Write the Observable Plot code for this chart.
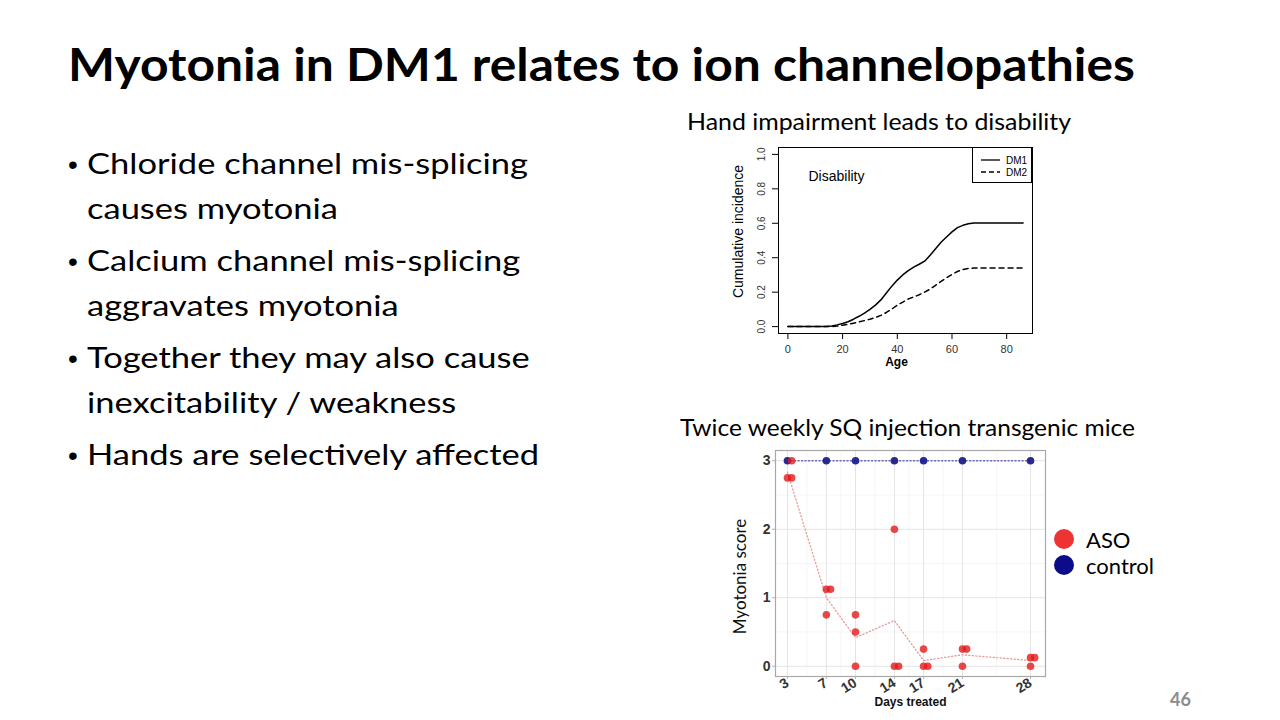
<!DOCTYPE html>
<html><head><meta charset="utf-8">
<script src="https://cdn.jsdelivr.net/npm/d3@7"></script>
<script src="https://cdn.jsdelivr.net/npm/@observablehq/plot@0.6"></script>
<style>
html,body{margin:0;padding:0;background:#fff;}
#slide{position:relative;width:1280px;height:720px;overflow:hidden;background:#fff;}
#bg{position:absolute;left:0;top:0;}
#c1{position:absolute;left:720px;top:140px;}
#c2{position:absolute;left:720px;top:440px;}
#lg1{position:absolute;left:972px;top:147px;}
</style></head>
<body>
<div id="slide">
<svg id="bg" width="1280" height="720" font-family="Lato">
  <text class="fit" data-w="1067" x="68" y="80.5" font-size="46" font-weight="700" fill="#000">Myotonia in DM1 relates to ion channelopathies</text>
  <g id="bullets" font-size="28" fill="#000"></g>
  <text class="fit" data-w="384" x="687" y="130" font-size="24" fill="#000">Hand impairment leads to disability</text>
  <text class="fit" data-w="455" x="680" y="436" font-size="24" fill="#000">Twice weekly SQ injection transgenic mice</text>
  <circle cx="1064" cy="539" r="10" fill="#ee3333"></circle>
  <circle cx="1064" cy="565" r="10" fill="#0c0c8a"></circle>
  <text x="1086" y="548" font-size="22" fill="#000">ASO</text>
  <text x="1086" y="574" font-size="22" fill="#000">control</text>
  <text x="1170" y="706" font-size="18" font-weight="700" fill="#8c8c8c">46</text>
</svg>
<div id="c1"></div>
<div id="c2"></div>
<svg id="lg1" width="60" height="36" font-family="Liberation Sans" font-size="10">
  <rect x="0.5" y="0.5" width="59" height="35" fill="#fff" stroke="#000"></rect>
  <line x1="9" x2="28" y1="13" y2="13" stroke="#000" stroke-width="1.3"></line>
  <line x1="9" x2="28" y1="25" y2="25" stroke="#000" stroke-width="1.3" stroke-dasharray="5,3"></line>
  <text x="34" y="17">DM1</text>
  <text x="34" y="29">DM2</text>
</svg>
</div>
<script>
// ---------- slide text ----------
const bulletLines = [
  ["Chloride channel mis-splicing", true],
  ["causes myotonia", false],
  ["Calcium channel mis-splicing", true],
  ["aggravates myotonia", false],
  ["Together they may also cause", true],
  ["inexcitability / weakness", false],
  ["Hands are selectively affected", true]
];
const bulletBaselines = [173.5, 218.5, 270.5, 315.5, 367.5, 412.5, 464.5];

// ---------- chart 1 data (Hand impairment / disability) ----------
const ageDM1 = [0, 14, 16, 18, 20, 22, 24, 26, 28, 30, 32, 34, 36, 38, 40, 42, 44, 46, 48, 50, 52, 54, 56, 58, 60, 62, 64, 66, 68, 86];
const incDM1 = [0, 0, 0.003, 0.01, 0.018, 0.028, 0.043, 0.06, 0.078, 0.1, 0.125, 0.155, 0.195, 0.235, 0.27, 0.3, 0.325, 0.345, 0.362, 0.38, 0.415, 0.452, 0.49, 0.52, 0.55, 0.575, 0.588, 0.597, 0.602, 0.602];
const ageDM2 = [0, 16, 18, 20, 22, 24, 26, 28, 30, 32, 34, 36, 38, 40, 42, 44, 46, 48, 50, 52, 54, 56, 58, 60, 62, 64, 66, 68, 86];
const incDM2 = [0, 0, 0.003, 0.008, 0.013, 0.02, 0.027, 0.035, 0.043, 0.053, 0.065, 0.082, 0.102, 0.125, 0.142, 0.16, 0.172, 0.185, 0.2, 0.218, 0.24, 0.262, 0.283, 0.303, 0.32, 0.332, 0.338, 0.34, 0.34];
const xTicks1 = [0, 20, 40, 60, 80];
const yTicks1 = [0, 0.2, 0.4, 0.6, 0.8, 1.0];

// ---------- chart 2 data (Myotonia score) ----------
const days = [3, 7, 10, 14, 17, 21, 28];
const controlScore = [3, 3, 3, 3, 3, 3, 3];
const asoDay = [3, 3, 3, 7, 7, 7, 10, 10, 10, 14, 14, 14, 17, 17, 17, 21, 21, 21, 28, 28, 28];
const asoScore = [3, 2.75, 2.75, 1.125, 1.125, 0.75, 0.75, 0.5, 0, 2, 0, 0, 0.25, 0, 0, 0.25, 0.25, 0, 0, 0.125, 0.125];
const yTicks2 = [0, 1, 2, 3];
const yMinor2 = [0.5, 1.5, 2.5];

// ---------- slide text layout ----------
const ns = "http://www.w3.org/2000/svg";
const bg = document.getElementById("bullets");
bulletLines.forEach(([t, b], i) => {
  if (b) {
    const c = document.createElementNS(ns, "text");
    c.setAttribute("x", 68); c.setAttribute("y", bulletBaselines[i]);
    c.setAttribute("font-family", "Liberation Sans");
    c.setAttribute("font-size", 28);
    c.textContent = "•";
    bg.appendChild(c);
  }
  const e = document.createElementNS(ns, "text");
  e.setAttribute("x", 87); e.setAttribute("y", bulletBaselines[i]);
  e.setAttribute("class", "bl");
  e.textContent = t;
  bg.appendChild(e);
});
const bls = [...document.querySelectorAll(".bl")];
const f = 441 / bls[0].getComputedTextLength();
bls.forEach(e => { e.setAttribute("textLength", e.getComputedTextLength() * f); e.setAttribute("lengthAdjust", "spacingAndGlyphs"); });
document.querySelectorAll(".fit").forEach(e => { e.setAttribute("textLength", e.dataset.w); e.setAttribute("lengthAdjust", "spacingAndGlyphs"); });

// ---------- chart 1 ----------
const dm1 = ageDM1.map((a, i) => ({age: a, inc: incDM1[i]}));
const dm2 = ageDM2.map((a, i) => ({age: a, inc: incDM2[i]}));
const c1 = Plot.plot({
  width: 320, height: 240,
  marginLeft: 58, marginRight: 8, marginTop: 7, marginBottom: 47,
  x: {domain: [-3.44, 89.44]},
  y: {domain: [-0.04, 1.04]},
  style: {fontFamily: "Liberation Sans", fontSize: "11px", color: "#000", background: "transparent", overflow: "visible"},
  marks: [
    Plot.frame({stroke: "#000", strokeWidth: 1}),
    Plot.axisX({ticks: xTicks1, tickSize: 6, tickPadding: 6, fill: "#333", label: null}),
    Plot.axisY({ticks: yTicks1, tickSize: 6, tickFormat: () => "", label: null}),
    Plot.text(yTicks1, {y: d => d, text: d => d.toFixed(1), frameAnchor: "left", textAnchor: "middle", dx: -17, rotate: -90, fill: "#333", fontSize: 10}),
    Plot.text(["Cumulative incidence"], {frameAnchor: "left", textAnchor: "middle", dx: -40, dy: -9, rotate: -90, fontSize: 14, text: d => d}),
    Plot.text(["Age"], {frameAnchor: "bottom", dy: 32, dx: -9, fontSize: 12, fontWeight: "bold", text: d => d}),
    Plot.text(["Disability"], {frameAnchor: "top-left", dx: 30, dy: 24, fontSize: 14, textAnchor: "start", text: d => d}),
    Plot.line(dm1, {x: "age", y: "inc", stroke: "#000", strokeWidth: 1.5}),
    Plot.line(dm2, {x: "age", y: "inc", stroke: "#000", strokeWidth: 1.5, strokeDasharray: "5,4"})
  ]
});
document.getElementById("c1").appendChild(c1);

// ---------- chart 2 ----------
const control = days.map((d, i) => ({day: d, score: controlScore[i], group: "control"}));
const aso = asoDay.map((d, i) => ({day: d, score: asoScore[i], group: "ASO"}));
// dodge overlapping points sideways (as in the original figure)
const seen = new Map();
[...control, ...aso].forEach(p => {
  const k = p.day + "|" + p.score;
  const n = seen.get(k) || 0;
  p.xj = p.day + n * 0.43;
  seen.set(k, n + 1);
});
const xMinor2 = days.slice(1).map((d, i) => (d + days[i]) / 2);
const c2 = Plot.plot({
  width: 340, height: 270,
  marginLeft: 55, marginRight: 15, marginTop: 10, marginBottom: 34,
  x: {domain: [1.77, 29.54]},
  y: {domain: [-0.15, 3.15]},
  style: {fontFamily: "Liberation Sans", fontSize: "14px", color: "#333", background: "transparent", overflow: "visible"},
  marks: [
    Plot.gridX(xMinor2, {stroke: "#f0f0f0", strokeOpacity: 1, strokeWidth: 0.7}),
    Plot.gridY(yMinor2, {stroke: "#f0f0f0", strokeOpacity: 1, strokeWidth: 0.7}),
    Plot.gridX(days, {stroke: "#e4e4e4", strokeOpacity: 1, strokeWidth: 1}),
    Plot.gridY(yTicks2, {stroke: "#e4e4e4", strokeOpacity: 1, strokeWidth: 1}),
    Plot.frame({stroke: "#a8a8a8", strokeWidth: 1.2}),
    Plot.axisX({ticks: days, tickSize: 3, tickPadding: 2, tickRotate: -32, stroke: "#b3b3b3", fill: "#333", fontWeight: "bold", label: null}),
    Plot.axisY({ticks: yTicks2, tickFormat: d => String(d), tickSize: 3, tickPadding: 2, stroke: "#b3b3b3", fill: "#333", fontWeight: "bold", label: null}),
    Plot.text(["Days treated"], {frameAnchor: "bottom", dy: 29, fontSize: 12, fontWeight: "bold", fill: "#111", text: d => d}),
    Plot.text(["Myotonia score"], {frameAnchor: "left", textAnchor: "middle", dx: -35, dy: 13, rotate: -90, fontSize: 17, fontFamily: "Lato", fill: "#111", text: d => d}),
    Plot.line(control, {x: "day", y: "score", stroke: "#6a6ab8", strokeWidth: 1.3, strokeDasharray: "1.2,2.3"}),
    Plot.lineY(aso, Plot.groupX({y: "mean"}, {x: "day", y: "score", stroke: "#e89a9a", strokeWidth: 1.3, strokeDasharray: "1.2,2.3"})),
    Plot.dot(control, {x: "xj", y: "score", r: 3.8, fill: "#1f1f8c", fillOpacity: 0.95}),
    Plot.dot(aso, {x: "xj", y: "score", r: 3.8, fill: "#e41a1c", fillOpacity: 0.8})
  ]
});
document.getElementById("c2").appendChild(c2);
</script>
</body></html>
